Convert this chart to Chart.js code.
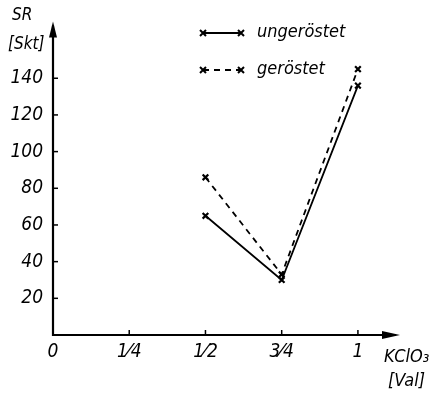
<!DOCTYPE html>
<html><head><meta charset="utf-8">
<script src="https://cdn.jsdelivr.net/npm/chart.js@4/dist/chart.umd.min.js"></script>
<style>html,body{margin:0;padding:0;background:#fff}#wrap{width:431px;height:396px}</style>
</head><body><div id="wrap"><canvas id="c" width="431" height="396"></canvas></div>
<script>
const xValues = [0.5, 0.75, 1];
const ungeroestet = [65, 30, 136];
const geroestet = [86, 33, 145];
const seriesNames = ['ungeröstet', 'geröstet'];
const xTickValues = [0, 0.25, 0.5, 0.75, 1];
const xTickLabels = ['0', '1\u20444', '1\u20442', '3\u20444', '1'];
const yTickValues = [20, 40, 60, 80, 100, 120, 140];

const FONT = '"Liberation Sans Narrow","DejaVu Sans Condensed",sans-serif';

const decor = {
  id: 'decor',
  afterDraw(chart) {
    const ctx = chart.ctx, a = chart.chartArea;
    const xs = chart.scales.x, ys = chart.scales.y;
    ctx.save();
    ctx.strokeStyle = '#000'; ctx.fillStyle = '#000'; ctx.lineWidth = 2.2;
    ctx.beginPath();
    ctx.moveTo(a.left, a.top + 4); ctx.lineTo(a.left, a.bottom); ctx.lineTo(a.right - 4, a.bottom);
    ctx.stroke();
    ctx.beginPath();
    ctx.moveTo(a.left, a.top); ctx.lineTo(a.left - 4, a.top + 16); ctx.lineTo(a.left + 4, a.top + 16); ctx.closePath(); ctx.fill();
    ctx.beginPath();
    ctx.moveTo(a.right, a.bottom); ctx.lineTo(a.right - 18, a.bottom - 4); ctx.lineTo(a.right - 18, a.bottom + 4); ctx.closePath(); ctx.fill();
    ctx.lineWidth = 1.5;
    yTickValues.forEach(v => { const y = ys.getPixelForValue(v); ctx.beginPath(); ctx.moveTo(a.left, y); ctx.lineTo(a.left + 5, y); ctx.stroke(); });
    xTickValues.slice(1).forEach(v => { const x = xs.getPixelForValue(v); ctx.beginPath(); ctx.moveTo(x, a.bottom); ctx.lineTo(x, a.bottom - 5); ctx.stroke(); });
    ctx.font = 'italic 17px ' + FONT;
    ctx.textAlign = 'left'; ctx.textBaseline = 'middle';
    ctx.fillText('SR', 12, 16);
    ctx.fillText('[Skt]', 8, 45);
    ctx.font = 'italic 18px ' + FONT;
    ctx.fillText('KClO\u2083', 384, 357);
    ctx.fillText('[Val]', 388, 381);
    const items = chart.data.datasets;
    const ly = [33, 70];
    items.forEach((ds, i) => {
      const y = ly[i];
      ctx.lineWidth = 1.8;
      ctx.setLineDash(ds.borderDash || []);
      ctx.beginPath(); ctx.moveTo(203, y); ctx.lineTo(241, y); ctx.stroke();
      ctx.setLineDash([]);
      ctx.lineWidth = 2;
      [203, 241].forEach(x => {
        ctx.beginPath(); ctx.moveTo(x - 3, y - 3); ctx.lineTo(x + 3, y + 3); ctx.moveTo(x - 3, y + 3); ctx.lineTo(x + 3, y - 3); ctx.stroke();
      });
      ctx.font = 'italic 18px ' + FONT;
      ctx.fillText(ds.label, 257, y - 1);
    });
    ctx.restore();
  }
};

new Chart(document.getElementById('c'), {
  type: 'line',
  data: {
    datasets: [
      { label: seriesNames[0], data: xValues.map((x, i) => ({x, y: ungeroestet[i]})),
        borderColor: '#000', borderWidth: 1.8, pointStyle: 'crossRot', pointRadius: 4,
        pointBorderColor: '#000', pointBorderWidth: 2.2, fill: false, tension: 0 },
      { label: seriesNames[1], data: xValues.map((x, i) => ({x, y: geroestet[i]})),
        borderColor: '#000', borderWidth: 1.8, borderDash: [6, 5], pointStyle: 'crossRot', pointRadius: 4,
        pointBorderColor: '#000', pointBorderWidth: 2.2, fill: false, tension: 0 }
    ]
  },
  options: {
    responsive: false, animation: false, devicePixelRatio: 1,
    layout: { padding: { top: 13, right: 31, left: 0, bottom: 0 } },
    plugins: { legend: { display: false }, tooltip: { enabled: false } },
    scales: {
      x: {
        type: 'linear', min: 0, max: 1.138,
        afterBuildTicks(s) { s.ticks = xTickValues.map(v => ({value: v})); },
        afterFit(s) { s.height = 61; },
        grid: { display: false, drawTicks: false }, border: { display: false },
        ticks: { callback: (v) => { const i = xTickValues.indexOf(v); return i >= 0 ? xTickLabels[i] : ''; },
          color: '#000', font: { family: FONT, size: 19, style: 'italic' }, padding: 6, maxRotation: 0, autoSkip: false }
      },
      y: {
        type: 'linear', min: 0, max: 171,
        afterBuildTicks(s) { s.ticks = yTickValues.map(v => ({value: v})); },
        afterFit(s) { s.width = 53; },
        grid: { display: false, drawTicks: false }, border: { display: false },
        ticks: { color: '#000', font: { family: FONT, size: 19, style: 'italic' }, padding: 10 }
      }
    }
  },
  plugins: [decor]
});
</script></body></html>
